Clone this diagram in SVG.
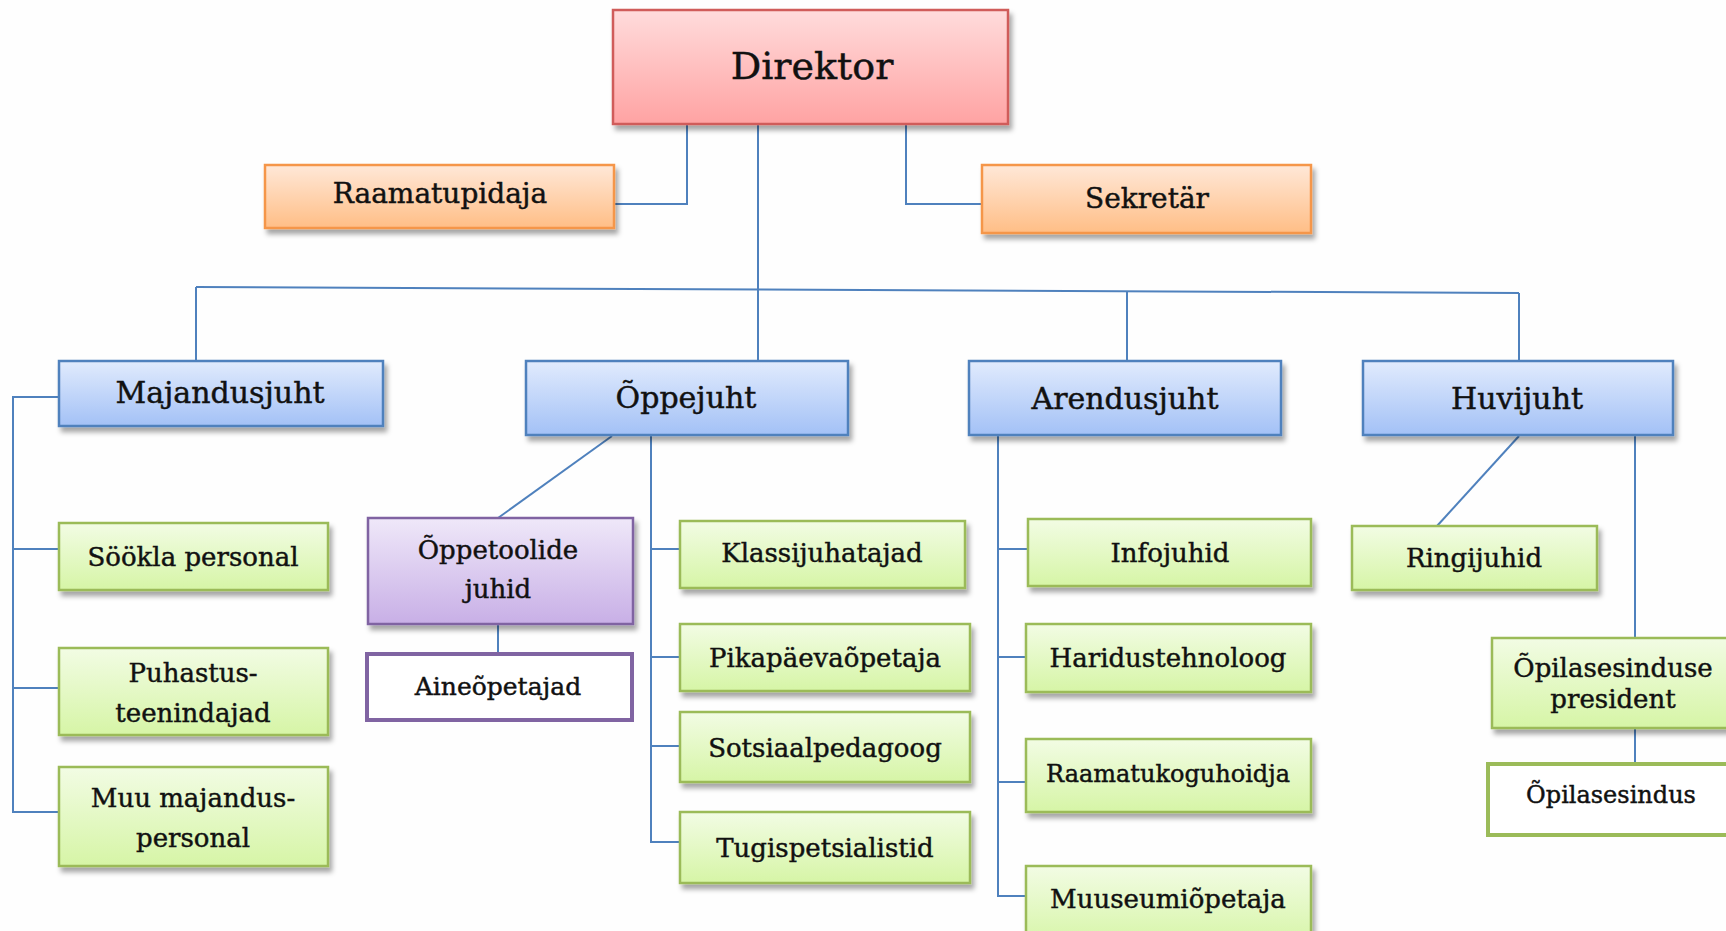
<svg xmlns="http://www.w3.org/2000/svg" width="1726" height="931" viewBox="0 0 1726 931">
<defs>
<linearGradient id="gRed" x1="0" y1="0" x2="0" y2="1"><stop offset="0" stop-color="#FFDCDC"/><stop offset="1" stop-color="#FFA3A3"/></linearGradient>
<linearGradient id="gOrange" x1="0" y1="0" x2="0" y2="1"><stop offset="0" stop-color="#FFE8D8"/><stop offset="1" stop-color="#FFBE86"/></linearGradient>
<linearGradient id="gBlue" x1="0" y1="0" x2="0" y2="1"><stop offset="0" stop-color="#E1EBFD"/><stop offset="1" stop-color="#A3C1F6"/></linearGradient>
<linearGradient id="gGreen" x1="0" y1="0" x2="0" y2="1"><stop offset="0" stop-color="#F2FCE4"/><stop offset="1" stop-color="#D6F5A6"/></linearGradient>
<linearGradient id="gPurple" x1="0" y1="0" x2="0" y2="1"><stop offset="0" stop-color="#EFE8F9"/><stop offset="1" stop-color="#C8AFE6"/></linearGradient>
<filter id="sh" x="-10%" y="-20%" width="130%" height="150%"><feDropShadow dx="3" dy="5" stdDeviation="2.5" flood-color="#000" flood-opacity="0.35"/></filter>
</defs>
<style>
.red{fill:url(#gRed);stroke:#D05C5A;stroke-width:2.5;filter:url(#sh)}
.org{fill:url(#gOrange);stroke:#F5964A;stroke-width:2.5;filter:url(#sh)}
.blu{fill:url(#gBlue);stroke:#4F81BD;stroke-width:2.5;filter:url(#sh)}
.grn{fill:url(#gGreen);stroke:#9BBB59;stroke-width:2.5;filter:url(#sh)}
.pur{fill:url(#gPurple);stroke:#8064A2;stroke-width:2.5;filter:url(#sh)}
.wpur{fill:#fff;stroke:#8064A2;stroke-width:4}
.wgrn{fill:#fff;stroke:#9BBB59;stroke-width:4}
text{font-family:"DejaVu Serif","Liberation Serif",serif;fill:#111;stroke:#111;stroke-width:0.45;text-anchor:middle}
.t38{font-size:38px}
.t30{font-size:30px}
.t28{font-size:28px}
.t26{font-size:26px}
.t25{font-size:25px}
.t24{font-size:24px}
.c{fill:none;stroke:#4F81BD;stroke-width:2}
</style>
<rect width="1726" height="931" fill="#FEFEFE"/>
<g id="connectors">
<polyline class="c" points="687,124 687,204 614,204"/>
<polyline class="c" points="906,124 906,204 982,204"/>
<line class="c" x1="758" y1="124" x2="758" y2="361"/>
<line class="c" x1="196" y1="287" x2="1519" y2="293"/>
<line class="c" x1="196" y1="287" x2="196" y2="361"/>
<line class="c" x1="1127" y1="291" x2="1127" y2="361"/>
<line class="c" x1="1519" y1="293" x2="1519" y2="361"/>
<polyline class="c" points="59,397 13,397 13,812 59,812"/>
<line class="c" x1="13" y1="549" x2="59" y2="549"/>
<line class="c" x1="13" y1="688" x2="59" y2="688"/>
<line class="c" x1="612" y1="436" x2="498" y2="518"/>
<line class="c" x1="498" y1="624" x2="498" y2="654"/>
<polyline class="c" points="651,435 651,842 680,842"/>
<line class="c" x1="651" y1="549" x2="680" y2="549"/>
<line class="c" x1="651" y1="657" x2="680" y2="657"/>
<line class="c" x1="651" y1="746" x2="680" y2="746"/>
<polyline class="c" points="998,435 998,896 1026,896"/>
<line class="c" x1="998" y1="549" x2="1028" y2="549"/>
<line class="c" x1="998" y1="657" x2="1026" y2="657"/>
<line class="c" x1="998" y1="782" x2="1026" y2="782"/>
<line class="c" x1="1519" y1="436" x2="1437" y2="526"/>
<line class="c" x1="1635" y1="435" x2="1635" y2="638"/>
<line class="c" x1="1635" y1="728" x2="1635" y2="764"/>
</g>
<g id="direktor"><rect class="red" x="613" y="10" width="395" height="114"/><text class="t38" x="812" y="79">Direktor</text></g>
<g id="raamatupidaja"><rect class="org" x="265" y="165" width="349" height="63"/><text class="t28" x="440" y="203">Raamatupidaja</text></g>
<g id="sekretar"><rect class="org" x="982" y="165" width="329" height="68"/><text class="t28" x="1147" y="208">Sekretär</text></g>
<g id="majandusjuht"><rect class="blu" x="59" y="361" width="324" height="65"/><text class="t30" x="220" y="403">Majandusjuht</text></g>
<g id="oppejuht"><rect class="blu" x="526" y="361" width="322" height="74"/><text class="t30" x="686" y="408">Õppejuht</text></g>
<g id="arendusjuht"><rect class="blu" x="969" y="361" width="312" height="74"/><text class="t30" x="1125" y="409">Arendusjuht</text></g>
<g id="huvijuht"><rect class="blu" x="1363" y="361" width="310" height="74"/><text class="t30" x="1517" y="409">Huvijuht</text></g>
<g id="sookla"><rect class="grn" x="59" y="523" width="269" height="67"/><text class="t26" x="193" y="566">Söökla personal</text></g>
<g id="puhastus"><rect class="grn" x="59" y="648" width="269" height="87"/><text class="t26" x="193" y="682">Puhastus-</text><text class="t26" x="193" y="722">teenindajad</text></g>
<g id="muu"><rect class="grn" x="59" y="767" width="269" height="99"/><text class="t26" x="193" y="807">Muu majandus-</text><text class="t26" x="193" y="847">personal</text></g>
<g id="oppetoolide"><rect class="pur" x="368" y="518" width="265" height="106"/><text class="t26" x="498" y="559">Õppetoolide</text><text class="t26" x="498" y="598">juhid</text></g>
<g id="aineopetajad"><rect class="wpur" x="367" y="654" width="265" height="66"/><text class="t25" x="498" y="695">Aineõpetajad</text></g>
<g id="klassijuhatajad"><rect class="grn" x="680" y="521" width="285" height="67"/><text class="t26" x="822" y="562">Klassijuhatajad</text></g>
<g id="pikapaeva"><rect class="grn" x="680" y="624" width="290" height="67"/><text class="t26" x="825" y="667">Pikapäevaõpetaja</text></g>
<g id="sotsiaal"><rect class="grn" x="680" y="712" width="290" height="70"/><text class="t26" x="825" y="757">Sotsiaalpedagoog</text></g>
<g id="tugi"><rect class="grn" x="680" y="812" width="290" height="71"/><text class="t26" x="825" y="857">Tugispetsialistid</text></g>
<g id="infojuhid"><rect class="grn" x="1028" y="519" width="283" height="67"/><text class="t26" x="1170" y="562">Infojuhid</text></g>
<g id="haridus"><rect class="grn" x="1026" y="624" width="285" height="68"/><text class="t26" x="1168" y="667">Haridustehnoloog</text></g>
<g id="raamatukogu"><rect class="grn" x="1026" y="739" width="285" height="73"/><text class="t24" x="1168" y="782">Raamatukoguhoidja</text></g>
<g id="muuseum"><rect class="grn" x="1026" y="866" width="285" height="80"/><text class="t26" x="1168" y="908">Muuseumiõpetaja</text></g>
<g id="ringijuhid"><rect class="grn" x="1352" y="526" width="245" height="64"/><text class="t26" x="1474" y="567">Ringijuhid</text></g>
<g id="president"><rect class="grn" x="1492" y="638" width="250" height="90"/><text class="t26" x="1613" y="677">Õpilasesinduse</text><text class="t26" x="1613" y="708">president</text></g>
<g id="opilasesindus"><rect class="wgrn" x="1488" y="764" width="250" height="71"/><text class="t24" x="1611" y="803">Õpilasesindus</text></g>
</svg>
